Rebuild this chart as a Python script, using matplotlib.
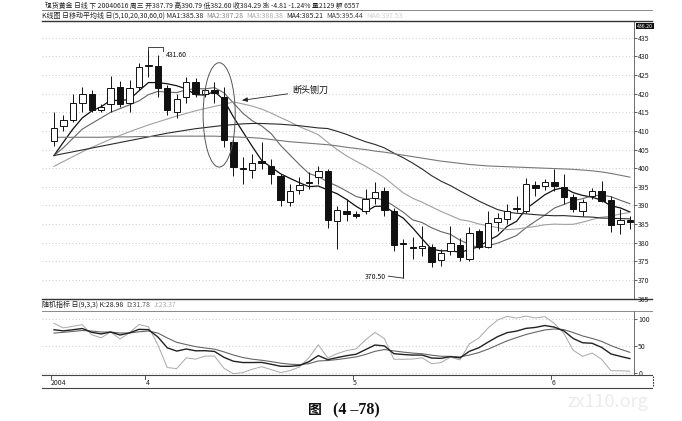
import matplotlib
matplotlib.use('Agg')
import matplotlib.pyplot as plt
import numpy as np
import pandas as pd
from matplotlib.patches import Rectangle, Ellipse
from matplotlib.lines import Line2D

# ---------------- data ----------------
opens = [407.2, 411.2, 412.8, 417.6, 419.8, 415.7, 417.1, 421.9, 417.4, 421.9,
         427.3, 427.5, 421.6, 415.2, 419.0, 423.0, 420.0, 421.1, 419.2, 406.9,
         399.7, 399.4, 401.8, 400.5, 397.8, 390.9, 394.1, 396.0, 397.6, 399.2,
         385.8, 388.5, 387.7, 388.5, 392.0, 393.8, 388.5, 379.8, 378.8, 378.7,
         378.9, 375.4, 377.8, 379.4, 375.6, 383.1, 378.9, 385.5, 386.3, 389.1,
         388.5, 395.4, 395.2, 396.2, 394.9, 392.2, 388.5, 392.5, 393.8, 391.4,
         385.0, 386.1]
highs = [415.2, 414.4, 419.8, 421.9, 421.1, 417.3, 424.8, 423.5, 423.8, 428.3,
         431.6, 430.5, 422.4, 419.8, 424.6, 424.3, 421.6, 423.0, 421.9, 408.5,
         402.9, 403.7, 406.9, 402.4, 398.4, 395.7, 397.6, 398.9, 400.5, 399.7,
         389.8, 391.7, 388.5, 394.4, 396.2, 394.9, 389.3, 381.0, 381.5, 384.5,
         379.7, 378.3, 384.5, 381.3, 384.2, 383.7, 388.5, 387.9, 390.3, 392.5,
         397.3, 396.5, 397.0, 399.7, 398.4, 393.0, 391.7, 394.6, 396.5, 392.5,
         389.0, 387.1]
lows = [405.9, 409.9, 412.3, 415.2, 415.2, 415.0, 415.2, 416.3, 415.0, 421.1,
        424.5, 419.0, 414.4, 413.6, 417.6, 419.0, 419.2, 417.6, 405.6, 397.8,
        395.7, 397.3, 399.7, 395.7, 389.8, 389.8, 393.0, 394.4, 395.7, 383.9,
        378.3, 385.8, 386.6, 387.7, 390.3, 387.1, 377.8, 370.5, 375.6, 376.4,
        373.5, 373.8, 376.7, 375.1, 375.1, 378.3, 378.6, 383.1, 385.0, 388.2,
        388.0, 392.5, 394.1, 393.8, 390.3, 388.2, 387.1, 391.7, 390.9, 382.9,
        382.3, 383.7]
closes = [410.9, 412.8, 417.6, 419.8, 415.7, 416.5, 421.6, 417.1, 421.4, 427.2,
          427.6, 421.6, 415.5, 418.7, 423.0, 419.8, 421.1, 420.3, 407.5, 400.2,
          399.9, 401.3, 401.5, 398.4, 391.4, 393.8, 395.4, 396.3, 399.2, 386.1,
          388.7, 387.7, 387.2, 391.7, 393.6, 388.7, 379.4, 379.6, 378.5, 379.0,
          374.8, 377.2, 379.9, 376.2, 382.6, 378.9, 385.3, 386.6, 388.5, 389.4,
          395.7, 394.6, 396.2, 395.2, 392.2, 389.0, 390.9, 393.8, 391.2, 384.7,
          386.1, 385.5]

ma_periods = [5, 10, 20, 30]
# moving-average values for the first days, before the
# window is filled by the visible candles (they include earlier trading days)
ma5_early = [403.4, 407.0, 410.5, 413.5]
ma10_early = [403.4, 405.5, 408.0, 410.5, 412.0, 413.5, 415.0, 416.0, 417.0]
ma20_early = [400.5, 401.8, 403.1, 404.4, 405.6, 406.7, 407.8, 408.8, 409.8, 410.7,
              411.6, 412.4, 413.2, 414.0, 414.7, 415.4, 416.0, 416.6, 417.1]
ma30_early = [403.4, 403.9, 404.4, 404.9, 405.4, 405.9, 406.4, 406.9, 407.4, 407.9,
              408.4, 408.9, 409.4, 409.8, 410.2, 410.6, 410.9, 411.2, 411.5, 411.7,
              411.9, 412.0, 412.0, 411.9, 411.8, 411.6, 411.4, 411.1, 410.8]
# 60-day average
ma60 = [408.3, 408.3, 408.3, 408.3, 408.3, 408.3, 408.4, 408.4, 408.4, 408.5,
        408.5, 408.5, 408.6, 408.6, 408.6, 408.6, 408.6, 408.6, 408.5, 408.4,
        408.3, 408.2, 408.0, 407.7, 407.4, 407.1, 406.9, 406.7, 406.5, 406.3,
        406.0, 405.6, 405.3, 405.0, 404.6, 404.3, 403.9, 403.5, 403.1, 402.7,
        402.3, 401.9, 401.6, 401.3, 401.0, 400.8, 400.6, 400.5, 400.4, 400.3,
        400.2, 400.1, 400.0, 399.9, 399.8, 399.7, 399.5, 399.3, 399.0, 398.6,
        398.1, 397.6]
kd_start = [80.0, 74.0]          # K, D on the first day
month_labels = ['2004', '4', '5', '6']
month_start = [0, 10, 32, 53]
price_ticks = list(range(365, 436, 5))
kdj_ticks = [0, 50, 100]

header1 = '现货黄金 日线 下 20040616 周三 开387.79 高390.79 低382.60 收384.29 涨 -4.81 -1.24% 量2129 额 6557'
header2 = [('K线图 日移动平均线 日(5,10,20,30,60,0) MA1:385.38', '#222222'),
           ('MA2:387.28', '#888888'), ('MA3:388.38', '#aaaaaa'),
           ('MA4:385.21', '#222222'), ('MA5:395.44', '#444444'),
           ('MA6:397.53', '#d0d0d0')]
header3 = [('随机指标 日(9,3,3) K:28.98', '#222222'), ('D:31.78', '#555555'),
           ('J:23.37', '#aaaaaa')]

# ---------------- figure ----------------
FAM = ['Noto Sans CJK SC', 'DejaVu Sans']
plt.rcParams['font.family'] = FAM
W, H = 682, 421
fig = plt.figure(figsize=(W / 100, H / 100), dpi=100)
fig.patch.set_facecolor('white')


def fx(px):
    return px / W


def fy(py):
    return 1 - py / H


L, R = 42, 634
ax = fig.add_axes([fx(L), fy(299), fx(R) - fx(L), fy(21) - fy(299)])
ax2 = fig.add_axes([fx(L), fy(375), fx(R) - fx(L), fy(311) - fy(375)])
ax3 = fig.add_axes([fx(L), fy(388), fx(R) - fx(L), fy(375) - fy(388)])

n = len(closes)
x = np.arange(n)
xlim = (-1.27, 61.44)

# candles
for i in range(n):
    o, h, l, c = opens[i], highs[i], lows[i], closes[i]
    ax.vlines(i, l, h, color='#111111', lw=0.7, zorder=3)
    up = c >= o
    bh = max(abs(c - o), 0.22)
    ax.add_patch(Rectangle((i - 0.34, min(o, c)), 0.68, bh,
                           facecolor='white' if up else '#111111',
                           edgecolor='#111111', lw=0.7, zorder=4))

# moving averages
s = pd.Series(closes)
early = {5: ma5_early, 10: ma10_early, 20: ma20_early, 30: ma30_early}
ma_style = {5: ('#111111', 0.9), 10: ('#666666', 0.8), 20: ('#a0a0a0', 0.8),
            30: ('#2a2a2a', 0.8), 60: ('#777777', 0.8)}
for p in ma_periods:
    vals = s.rolling(p).mean().to_numpy()
    vals[:len(early[p])] = early[p]
    col, lw = ma_style[p]
    ax.plot(x, vals, color=col, lw=lw, zorder=2)
col, lw = ma_style[60]
ax.plot(x, ma60, color=col, lw=lw, zorder=2)

ax.set_xlim(*xlim)
ax.set_ylim(364.9, 439.5)
ax.set_yticks(price_ticks)
ax.yaxis.tick_right()
ax.tick_params(axis='y', direction='out', length=2, width=0.5, labelsize=5,
               pad=1, colors='#222222')
ax.set_xticks([])
for sp in ['left', 'top', 'bottom']:
    ax.spines[sp].set_visible(False)
ax.spines['right'].set_linewidth(0.6)
ax.spines['right'].set_color('#555555')
ax.grid(axis='y', linestyle=(0, (1, 3)), color='#bbbbbb', lw=0.6)
ax.set_axisbelow(True)

# annotations on price panel
i_hi = int(np.argmax(highs))
i_lo = int(np.argmin(lows))
p0 = ax.transData.transform((i_hi, highs[i_hi]))
pts = np.array([p0, p0 + [0, 3], p0 + [15, 3], p0 + [15, -1]])
dpts = ax.transData.inverted().transform(pts)
ax.plot(dpts[:, 0], dpts[:, 1], color='#222222', lw=0.6, zorder=5)
tpos = ax.transData.inverted().transform(p0 + [17, -5])
ax.text(tpos[0], tpos[1], f'{highs[i_hi]:.2f}', fontsize=5, ha='left', va='center',
        color='#111111')

q0 = ax.transData.transform((i_lo, lows[i_lo]))
pts = np.array([q0, q0 + [-15, 2]])
dpts = ax.transData.inverted().transform(pts)
ax.plot(dpts[:, 0], dpts[:, 1], color='#222222', lw=0.6, zorder=5)
tpos = ax.transData.inverted().transform(q0 + [-17, 1])
ax.text(tpos[0], tpos[1], f'{lows[i_lo]:.2f}', fontsize=5, ha='right', va='center',
        color='#111111')

i_drop = 18
ax.add_patch(Ellipse((i_drop - 0.5, (highs[i_drop - 1] + lows[i_drop]) / 2), 3.4, 28,
                     fill=False, edgecolor='#555555', lw=0.7, zorder=5))
ax.annotate('断头铡刀', xy=(i_drop + 1.9, 418.2), xytext=(i_drop + 7.2, 420.8),
            fontsize=6.5, ha='left', va='center', color='#111111',
            arrowprops=dict(arrowstyle='-|>,head_length=0.5,head_width=0.2',
                            color='#222222', lw=0.6, shrinkA=1, shrinkB=0))

# KDJ
K = np.zeros(n)
D = np.zeros(n)
K[0], D[0] = kd_start
for i in range(1, n):
    lo = min(lows[max(0, i - 8):i + 1])
    hi = max(highs[max(0, i - 8):i + 1])
    rsv = (closes[i] - lo) / (hi - lo) * 100
    K[i] = (2 * K[i - 1] + rsv) / 3
    D[i] = (2 * D[i - 1] + K[i]) / 3
J = 3 * K - 2 * D
ax2.plot(x, J, color='#a8a8a8', lw=0.7)
ax2.plot(x, D, color='#666666', lw=0.8)
ax2.plot(x, K, color='#222222', lw=1.0)
ax2.set_xlim(*xlim)
ax2.set_ylim(-3.7, 114.8)
ax2.set_yticks(kdj_ticks)
ax2.yaxis.tick_right()
ax2.tick_params(axis='y', direction='out', length=2, width=0.5, labelsize=5,
                pad=1, colors='#222222')
ax2.set_xticks([])
for sp in ['left', 'top', 'bottom']:
    ax2.spines[sp].set_visible(False)
ax2.spines['right'].set_linewidth(0.6)
ax2.spines['right'].set_color('#555555')
ax2.grid(axis='y', linestyle=(0, (1, 3)), color='#bbbbbb', lw=0.6)
ax2.set_axisbelow(True)

# date strip
ax3.set_xlim(*xlim)
ax3.set_ylim(0, 1)
ax3.axis('off')
for lab, m in zip(month_labels, month_start):
    ax3.plot([m - 0.35, m - 0.35], [1, 0.72], color='#333333', lw=0.6)
    ax3.text(m - 0.3, 0.42, lab, fontsize=5, ha='left', va='center', color='#222222')

# figure-level rules
for yy, lw, c in [(10, 0.6, '#777777'), (21, 1.0, '#333333'), (299, 1.0, '#333333'),
                  (311, 0.6, '#777777'), (375, 0.8, '#444444'), (388, 0.8, '#444444')]:
    fig.add_artist(Line2D([fx(L), fx(652)], [fy(yy), fy(yy)], color=c, lw=lw))
fig.add_artist(Line2D([fx(653), fx(653)], [fy(376), fy(387)], color='#333333', lw=0.8,
                      linestyle=(0, (1.5, 1))))

renderer = fig.canvas.get_renderer()


def seq_text(x0, y0, parts, fs):
    xx = x0
    for txt, col in parts:
        t = fig.text(fx(xx), fy(y0), txt, fontsize=fs, color=col, ha='left', va='center')
        bb = t.get_window_extent(renderer)
        xx += bb.width + 3


seq_text(45, 5.5, [(header1, '#222222')], 4.95)
seq_text(42, 15.5, header2, 5.0)
seq_text(42, 305, header3, 5.0)

fig.text(fx(645), fy(26), '436.20', fontsize=3.8, color='white', ha='center', va='center',
         bbox=dict(boxstyle='square,pad=0.15', facecolor='#111111', edgecolor='none'))

# caption & watermark
fig.text(fx(315), fy(410), '图', fontsize=10, fontweight='bold', ha='center', va='center',
         color='#111111')
fig.text(fx(356), fy(410), '(4 –78)', fontsize=11.5, fontweight='bold', ha='center',
         va='center', color='#111111', family=['Liberation Serif', 'DejaVu Serif'])
fig.text(fx(608), fy(402), 'zx110.org', fontsize=13, ha='center', va='center',
         color='#ececec')

fig.savefig('out.png', dpi=100)
